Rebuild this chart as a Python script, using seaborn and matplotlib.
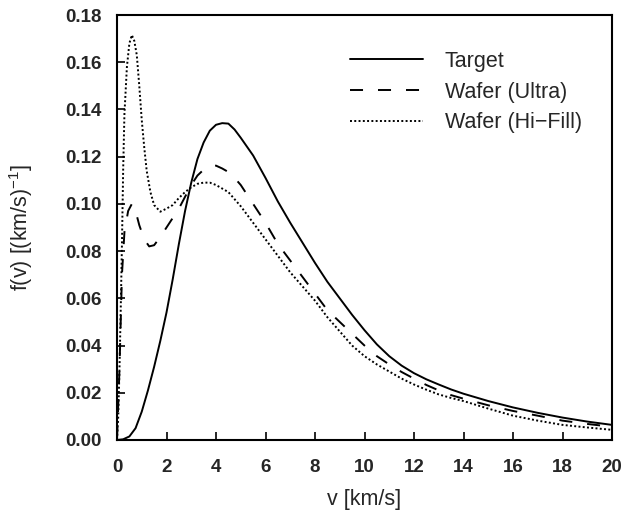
import numpy as np
import pandas as pd
import matplotlib
matplotlib.use("Agg")
import matplotlib.pyplot as plt
import seaborn as sns

# ---- data ----
v_target = [0, 0.25, 0.5, 0.75, 1.0, 1.25, 1.5, 1.75, 2.0, 2.25, 2.5, 2.75, 3.0, 3.25, 3.5,
            3.75, 4.0, 4.25, 4.5, 4.75, 5.0, 5.5, 6, 6.5, 7, 7.5, 8, 8.5, 9, 9.5, 10, 10.5,
            11, 11.5, 12, 12.5, 13, 13.5, 14, 15, 16, 17, 18, 19, 20]
f_target = [0, 0.0003, 0.0015, 0.005, 0.012, 0.021, 0.031, 0.042, 0.054, 0.068, 0.083, 0.097,
            0.109, 0.119, 0.126, 0.131, 0.1335, 0.1342, 0.134, 0.1315, 0.128, 0.1205, 0.111,
            0.101, 0.092, 0.0835, 0.075, 0.067, 0.060, 0.053, 0.0465, 0.0405, 0.0355, 0.0315,
            0.0283, 0.0257, 0.0235, 0.0214, 0.0196, 0.0165, 0.0138, 0.0115, 0.0095, 0.0078,
            0.0064]

v_ultra = [0, 0.1, 0.2, 0.3, 0.45, 0.6, 0.75, 0.9, 1.1, 1.3, 1.5, 1.75, 2.0, 2.25, 2.5, 2.75,
           3.0, 3.25, 3.5, 3.75, 4.0, 4.25, 4.5, 4.75, 5, 5.5, 6, 6.5, 7, 7.5, 8, 8.5, 9, 9.5,
           10, 10.5, 11, 11.5, 12, 12.5, 13, 13.5, 14, 15, 16, 17, 18, 19, 20]
f_ultra = [0, 0.03, 0.07, 0.088, 0.097, 0.100, 0.097, 0.091, 0.085, 0.082, 0.0825, 0.086,
           0.090, 0.094, 0.098, 0.103, 0.108, 0.112, 0.1145, 0.116, 0.1162, 0.115, 0.1135,
           0.111, 0.108, 0.100, 0.092, 0.083, 0.076, 0.069, 0.062, 0.055, 0.050, 0.045, 0.040,
           0.0355, 0.032, 0.0288, 0.026, 0.0233, 0.021, 0.019, 0.0175, 0.0147, 0.0123, 0.0103,
           0.0082, 0.0068, 0.0056]

v_hifill = [0, 0.05, 0.1, 0.15, 0.2, 0.25, 0.3, 0.4, 0.5, 0.6, 0.7, 0.8, 0.9, 1.0, 1.1, 1.2,
            1.35, 1.5, 1.75, 2.0, 2.25, 2.5, 2.75, 3.0, 3.25, 3.5, 3.75, 4.0, 4.5, 5, 5.5, 6,
            6.5, 7, 7.5, 8, 8.5, 9, 9.5, 10, 10.5, 11, 11.5, 12, 12.5, 13, 13.5, 14, 15, 16,
            17, 18, 19, 20]
f_hifill = [0, 0.01, 0.03, 0.055, 0.083, 0.115, 0.138, 0.158, 0.168, 0.1715, 0.169, 0.163,
            0.150, 0.1355, 0.124, 0.114, 0.105, 0.0995, 0.0967, 0.098, 0.0995, 0.1025, 0.105,
            0.107, 0.1085, 0.109, 0.109, 0.108, 0.105, 0.099, 0.092, 0.085, 0.078, 0.071,
            0.065, 0.059, 0.052, 0.046, 0.040, 0.0355, 0.032, 0.029, 0.026, 0.0235, 0.0213,
            0.0193, 0.0178, 0.0165, 0.0133, 0.0103, 0.0082, 0.0064, 0.0053, 0.0043]

series_names = ["Target", "Wafer (Ultra)", "Wafer (Hi\u2212Fill)"]
x_ticks = [0, 2, 4, 6, 8, 10, 12, 14, 16, 18, 20]
y_ticks = [0.00, 0.02, 0.04, 0.06, 0.08, 0.10, 0.12, 0.14, 0.16, 0.18]

# ---- styling ----
sns.set_style("ticks")
plt.rcParams["font.family"] = ["Liberation Sans", "DejaVu Sans"]
plt.rcParams["mathtext.default"] = "regular"

fig = plt.figure(figsize=(6.22, 5.13), dpi=100)
ax = fig.add_axes([117 / 622, 73 / 513, 495 / 622, 425 / 513])

lw = 1.4
styles = ["-", (0, (6.7, 7.7)), (0, (1.0, 1.2))]
data = [(v_target, f_target), (v_ultra, f_ultra), (v_hifill, f_hifill)]
for (vx, fy), name, ls in zip(data, series_names, styles):
    df = pd.DataFrame({"v": vx, "f": fy})
    sns.lineplot(data=df, x="v", y="f", ax=ax, color="black", linewidth=lw,
                 linestyle=ls, label=name, estimator=None, sort=True)

ax.set_xlim(0, 20)
ax.set_ylim(0, 0.18)
ax.set_xticks(x_ticks)
ax.set_yticks(y_ticks)
ax.set_xticklabels([str(t) for t in x_ticks])
ax.set_yticklabels([f"{t:.2f}" for t in y_ticks])
ax.tick_params(axis="both", direction="in", length=5.5, width=1.2, color="black",
               labelsize=13.5, top=False, right=False)
ax.tick_params(axis="x", pad=14)
ax.tick_params(axis="y", pad=11)
for lab in ax.get_xticklabels() + ax.get_yticklabels():
    lab.set_fontweight("bold")
for sp in ax.spines.values():
    sp.set_visible(True)
    sp.set_linewidth(1.5)
    sp.set_color("black")

ax.set_xlabel("v [km/s]", fontsize=15.5, labelpad=9)
ax.set_ylabel("f(v) [(km/s)$^{-1}$]", fontsize=15.5, labelpad=22)

leg = ax.legend(loc="upper left", bbox_to_anchor=((350 - 117) / 495, (440 - 51) / 425),
                frameon=False, fontsize=15.5, handlelength=3.4, handletextpad=1.0,
                labelspacing=0.45, borderpad=0, borderaxespad=0)

fig.savefig("out.png", dpi=100)
